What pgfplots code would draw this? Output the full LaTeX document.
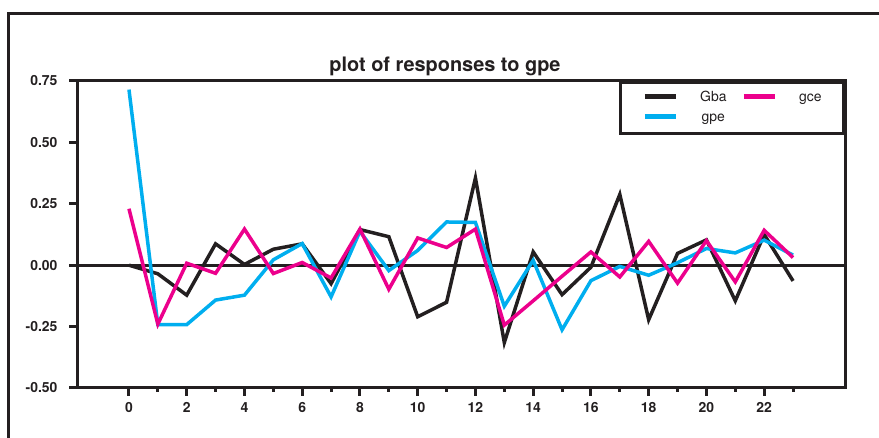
\documentclass[border=0pt]{standalone}
\usepackage{fontspec}
\setmainfont{TeX Gyre Heros}
\usepackage{pgfplots}
\pgfplotsset{compat=1.18}
\definecolor{ink}{HTML}{231F20}
\definecolor{pcyan}{HTML}{00AEEF}
\definecolor{pmag}{HTML}{EC008C}
\begin{document}
\begin{tikzpicture}[x=1bp,y=1bp]
\useasboundingbox (0,0) rectangle (879,438);
\draw[line width=3bp, ink] (8.5,-5) -- (8.5,424.5) -- (885,424.5);
\node[anchor=base, font=\bfseries\fontsize{20}{24}\selectfont, text=ink] at (445,366) {plot of responses to gpe};
\begin{axis}[
  at={(77bp,50bp)}, anchor=south west,
  scale only axis, width=768bp, height=307bp,
  xmin=-1.8, xmax=24.8, ymin=-0.5, ymax=0.75,
  axis line style={line width=3bp, ink},
  xtick={0,2,...,22}, minor xtick={1,3,...,23},
  ytick={-0.5,-0.25,0,0.25,0.5,0.75},
  yticklabels={-0.50,-0.25,0.00,0.25,0.50,0.75},
  xtick pos=bottom, ytick pos=left,
  tick align=outside,
  major tick length=8bp, minor tick length=4bp,
  every tick/.style={line width=3bp, ink},
  minor tick style={line width=3bp, ink},
  tick label style={font=\bfseries\fontsize{14}{16}\selectfont, text=ink},
  yticklabel style={xshift=-8bp},
  xticklabel style={yshift=-3bp},
  /pgf/number format/assume math mode=true,
  legend columns=2, transpose legend,
  legend style={at={(1,1)}, anchor=north east, draw=ink, line width=3bp,
    font=\fontsize{14}{16}\selectfont, text=ink,
    inner xsep=22bp, inner ysep=9bp, row sep=7bp,
    nodes={inner sep=0pt, text height=10bp, text depth=3bp, anchor=base},
    column sep=22bp,
    /tikz/every even column/.append style={column sep=15bp}},
  legend cell align=left,
  legend image code/.code={\path[draw=none,fill=none] (0bp,-3bp) -- (31bp,10bp);\draw[line width=4.5bp, line cap=butt] (0bp,5bp) -- (31bp,5bp);},
  every axis plot/.append style={line width=3.5bp, line join=miter, no markers},
]
\draw[line width=3bp, ink] (axis cs:-1.8,0) -- (axis cs:24.8,0);
\addplot[ink] coordinates {(0,0) (1,-0.035) (2,-0.122) (3,0.087) (4,0.003) (5,0.065) (6,0.087) (7,-0.075) (8,0.145) (9,0.116) (10,-0.21) (11,-0.151) (12,0.355) (13,-0.315) (14,0.054) (15,-0.12) (16,-0.008) (17,0.288) (18,-0.222) (19,0.048) (20,0.103) (21,-0.145) (22,0.125) (23,-0.064)};
\addlegendentry{Gba}
\addplot[pcyan] coordinates {(0,0.715) (1,-0.242) (2,-0.242) (3,-0.142) (4,-0.122) (5,0.022) (6,0.088) (7,-0.129) (8,0.138) (9,-0.022) (10,0.06) (11,0.176) (12,0.174) (13,-0.167) (14,0.02) (15,-0.263) (16,-0.063) (17,-0.005) (18,-0.041) (19,0.01) (20,0.068) (21,0.05) (22,0.102) (23,0.041)};
\addlegendentry{gpe}
\addplot[pmag] coordinates {(0,0.23) (1,-0.24) (2,0.008) (3,-0.033) (4,0.147) (5,-0.034) (6,0.011) (7,-0.052) (8,0.147) (9,-0.098) (10,0.111) (11,0.072) (12,0.147) (13,-0.244) (14,-0.145) (15,-0.045) (16,0.054) (17,-0.048) (18,0.097) (19,-0.073) (20,0.1) (21,-0.068) (22,0.142) (23,0.031)};
\addlegendentry{gce}
\end{axis}
\end{tikzpicture}
\end{document}
